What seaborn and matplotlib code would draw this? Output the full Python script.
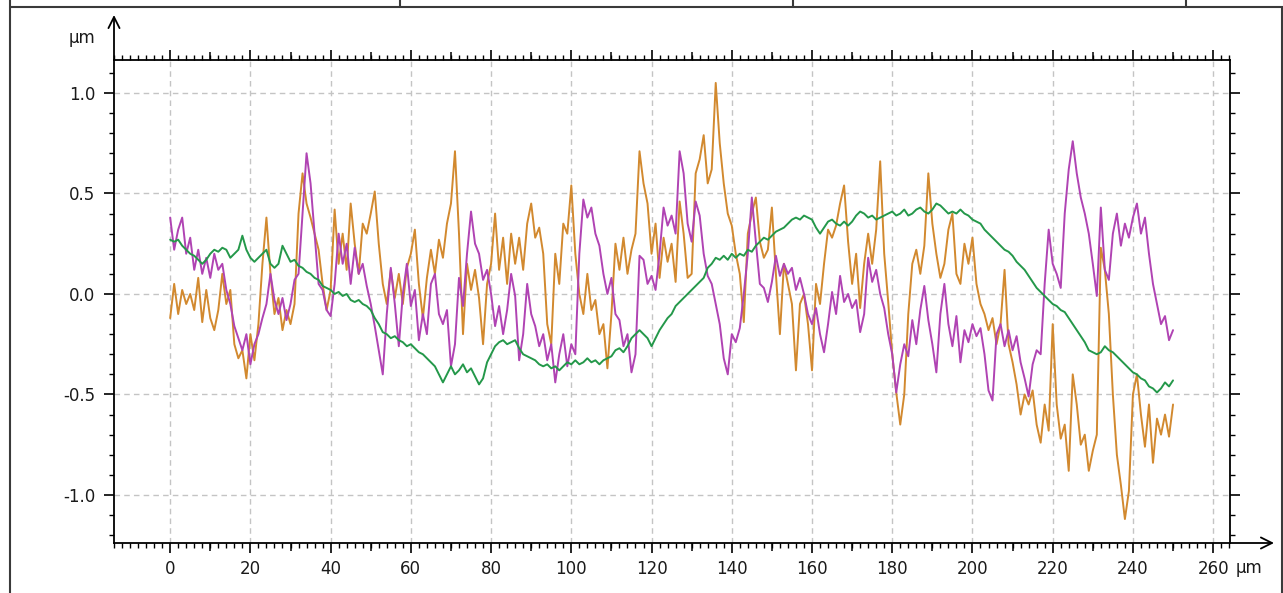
import matplotlib
matplotlib.use("Agg")
import matplotlib.pyplot as plt
from matplotlib.lines import Line2D
from matplotlib.ticker import MultipleLocator, FixedLocator, NullFormatter
import pandas as pd
import seaborn as sns

# Surface profiles sampled every 1 µm along the scan (heights in µm)
positions_um = list(range(0, 251))

profile_orange = [
    -0.12, 0.05, -0.10, 0.02, -0.05, 0.00, -0.08, 0.08, -0.14, 0.02,
    -0.12, -0.18, -0.08, 0.10, -0.05, 0.02, -0.25, -0.32, -0.28, -0.42,
    -0.20, -0.33, -0.15, 0.15, 0.38, 0.10, -0.10, -0.02, -0.18, -0.08,
    -0.15, -0.05, 0.40, 0.60, 0.45, 0.38, 0.30, 0.22, 0.05, -0.08,
    0.02, 0.42, 0.15, 0.30, 0.12, 0.45, 0.25, 0.10, 0.35, 0.30,
    0.40, 0.51, 0.25, 0.05, -0.05, 0.12, -0.02, 0.10, -0.05, 0.13,
    0.20, 0.32, 0.05, -0.12, 0.08, 0.22, 0.10, 0.27, 0.18, 0.35,
    0.45, 0.71, 0.30, -0.20, 0.15, 0.02, 0.12, -0.02, -0.25, 0.05,
    0.15, 0.40, 0.12, 0.28, 0.05, 0.30, 0.15, 0.28, 0.12, 0.35,
    0.45, 0.28, 0.33, 0.20, -0.15, -0.25, 0.20, 0.05, 0.35, 0.30,
    0.54, 0.20, 0.00, -0.10, 0.10, -0.08, -0.03, -0.20, -0.15, -0.37,
    -0.10, 0.25, 0.12, 0.28, 0.10, 0.22, 0.30, 0.71, 0.55, 0.45,
    0.20, 0.35, 0.08, 0.28, 0.16, 0.25, 0.06, 0.46, 0.30, 0.08,
    0.10, 0.60, 0.67, 0.79, 0.55, 0.62, 1.05, 0.75, 0.55, 0.40,
    0.34, 0.20, 0.10, -0.14, 0.30, 0.40, 0.48, 0.26, 0.18, 0.22,
    0.43, 0.10, -0.20, 0.15, 0.05, -0.05, -0.38, -0.05, 0.00, -0.15,
    -0.38, 0.05, -0.05, 0.15, 0.32, 0.28, 0.34, 0.45, 0.54, 0.26,
    0.05, 0.20, -0.07, 0.15, 0.30, 0.15, 0.32, 0.66, 0.20, -0.04,
    -0.30, -0.49, -0.65, -0.50, -0.10, 0.15, 0.22, 0.10, 0.24, 0.60,
    0.35, 0.20, 0.08, 0.15, 0.32, 0.40, 0.10, 0.05, 0.25, 0.15,
    0.28, 0.05, -0.05, -0.10, -0.18, -0.12, -0.25, -0.15, 0.12, -0.25,
    -0.34, -0.45, -0.60, -0.50, -0.55, -0.48, -0.65, -0.74, -0.55, -0.68,
    -0.15, -0.55, -0.72, -0.65, -0.88, -0.40, -0.55, -0.75, -0.70, -0.88,
    -0.78, -0.70, 0.23, 0.12, -0.10, -0.50, -0.80, -0.95, -1.12, -0.98,
    -0.50, -0.40, -0.60, -0.76, -0.55, -0.84, -0.62, -0.70, -0.60, -0.71,
    -0.55,
]

profile_magenta = [
    0.38, 0.22, 0.32, 0.38, 0.20, 0.28, 0.12, 0.22, 0.10, 0.18,
    0.08, 0.20, 0.12, 0.15, 0.02, -0.05, -0.16, -0.22, -0.28, -0.20,
    -0.35, -0.25, -0.20, -0.12, -0.05, 0.10, -0.03, -0.10, -0.02, -0.13,
    -0.05, 0.07, 0.10, 0.40, 0.70, 0.55, 0.30, 0.05, 0.02, -0.08,
    -0.11, 0.05, 0.30, 0.15, 0.25, 0.05, 0.23, 0.10, 0.15, 0.04,
    -0.05, -0.16, -0.28, -0.40, -0.10, 0.13, -0.05, -0.26, 0.00, 0.15,
    -0.06, 0.02, -0.23, -0.10, -0.20, 0.05, 0.10, -0.10, -0.15, -0.08,
    -0.36, -0.25, 0.08, -0.06, 0.20, 0.41, 0.25, 0.20, 0.07, 0.12,
    0.00, -0.16, -0.06, -0.20, -0.08, 0.10, -0.01, -0.33, -0.20, 0.05,
    -0.10, -0.16, -0.26, -0.20, -0.33, -0.25, -0.44, -0.30, -0.20, -0.36,
    -0.25, -0.30, 0.20, 0.47, 0.38, 0.43, 0.30, 0.24, 0.10, 0.00,
    0.08, -0.10, -0.13, -0.26, -0.20, -0.39, -0.30, 0.19, 0.17, 0.05,
    0.09, 0.02, 0.20, 0.43, 0.34, 0.39, 0.30, 0.71, 0.60, 0.35,
    0.26, 0.46, 0.39, 0.20, 0.09, 0.05, -0.05, -0.15, -0.32, -0.40,
    -0.20, -0.24, -0.17, 0.00, 0.20, 0.48, 0.26, 0.05, 0.03, -0.04,
    0.06, 0.19, 0.09, 0.15, 0.10, 0.13, 0.02, 0.08, 0.00, -0.10,
    -0.15, -0.07, -0.20, -0.29, -0.15, 0.01, -0.10, 0.09, -0.04, 0.00,
    -0.07, -0.03, -0.19, -0.10, 0.18, 0.06, 0.12, 0.00, -0.07, -0.20,
    -0.30, -0.49, -0.35, -0.25, -0.31, -0.13, -0.25, -0.08, 0.04, -0.13,
    -0.25, -0.39, -0.10, 0.05, -0.15, -0.26, -0.11, -0.34, -0.18, -0.24,
    -0.15, -0.21, -0.17, -0.30, -0.48, -0.53, -0.20, -0.15, -0.26, -0.18,
    -0.28, -0.21, -0.34, -0.42, -0.51, -0.35, -0.28, -0.30, 0.05, 0.32,
    0.15, 0.10, 0.03, 0.40, 0.62, 0.76, 0.60, 0.48, 0.40, 0.30,
    0.15, -0.01, 0.43, 0.12, 0.07, 0.30, 0.40, 0.24, 0.35, 0.28,
    0.38, 0.45, 0.30, 0.38, 0.20, 0.05, -0.05, -0.15, -0.11, -0.23,
    -0.18,
]

profile_green = [
    0.27, 0.26, 0.27, 0.24, 0.22, 0.20, 0.19, 0.17, 0.15, 0.17,
    0.20, 0.22, 0.21, 0.23, 0.22, 0.18, 0.20, 0.22, 0.29, 0.22,
    0.18, 0.16, 0.18, 0.20, 0.22, 0.15, 0.13, 0.15, 0.24, 0.20,
    0.16, 0.17, 0.14, 0.13, 0.11, 0.10, 0.08, 0.07, 0.04, 0.03,
    0.02, 0.00, 0.01, -0.01, 0.00, -0.03, -0.04, -0.03, -0.05, -0.06,
    -0.08, -0.12, -0.15, -0.19, -0.20, -0.22, -0.21, -0.23, -0.24, -0.26,
    -0.25, -0.27, -0.29, -0.30, -0.32, -0.34, -0.36, -0.40, -0.44, -0.40,
    -0.36, -0.40, -0.38, -0.35, -0.39, -0.37, -0.41, -0.45, -0.42, -0.34,
    -0.30, -0.26, -0.24, -0.23, -0.25, -0.24, -0.23, -0.27, -0.30, -0.31,
    -0.32, -0.33, -0.35, -0.36, -0.35, -0.37, -0.36, -0.38, -0.36, -0.34,
    -0.35, -0.33, -0.35, -0.34, -0.32, -0.34, -0.33, -0.35, -0.33, -0.32,
    -0.31, -0.28, -0.27, -0.29, -0.26, -0.22, -0.20, -0.18, -0.20, -0.22,
    -0.26, -0.22, -0.18, -0.15, -0.12, -0.10, -0.06, -0.04, -0.02, 0.00,
    0.02, 0.04, 0.06, 0.08, 0.13, 0.15, 0.18, 0.17, 0.19, 0.17,
    0.20, 0.18, 0.20, 0.19, 0.22, 0.21, 0.24, 0.26, 0.28, 0.27,
    0.29, 0.31, 0.32, 0.33, 0.35, 0.37, 0.38, 0.37, 0.39, 0.38,
    0.37, 0.33, 0.30, 0.33, 0.36, 0.37, 0.35, 0.34, 0.36, 0.34,
    0.36, 0.39, 0.41, 0.40, 0.38, 0.39, 0.37, 0.38, 0.39, 0.40,
    0.41, 0.39, 0.40, 0.42, 0.39, 0.40, 0.42, 0.43, 0.41, 0.40,
    0.42, 0.45, 0.44, 0.42, 0.40, 0.41, 0.40, 0.42, 0.40, 0.39,
    0.37, 0.36, 0.35, 0.32, 0.30, 0.28, 0.26, 0.24, 0.22, 0.21,
    0.19, 0.16, 0.14, 0.12, 0.09, 0.06, 0.03, 0.01, -0.01, -0.03,
    -0.05, -0.06, -0.08, -0.09, -0.12, -0.15, -0.18, -0.21, -0.24, -0.28,
    -0.29, -0.30, -0.29, -0.26, -0.28, -0.29, -0.31, -0.33, -0.35, -0.37,
    -0.39, -0.40, -0.42, -0.43, -0.46, -0.47, -0.49, -0.47, -0.44, -0.46,
    -0.43,
]

profile_names = ["orange", "magenta", "green"]
profile_colors = ["#d2892f", "#b043b3", "#24984a"]

x_major_ticks = [0, 20, 40, 60, 80, 100, 120, 140, 160, 180, 200, 220, 240, 260]
x_mid_ticks = [10, 30, 50, 70, 90, 110, 130, 150, 170, 190, 210, 230, 250]
y_major_ticks = [-1.0, -0.5, 0.0, 0.5, 1.0]
y_tick_labels = ["-1.0", "-0.5", "0.0", "0.5", "1.0"]

sns.set_style("white")
plt.rcParams["font.family"] = ["DejaVu Sans"]
plt.rcParams["axes.unicode_minus"] = False

W, H = 1283, 593
fig = plt.figure(figsize=(W / 100, H / 100), dpi=100)
fig.patch.set_facecolor("white")

# plot box in pixel terms: left 114, right 1230, top 60, bottom 543
ax = fig.add_axes([114 / W, 1 - 543 / H, (1230 - 114) / W, (543 - 60) / H])

df = pd.concat(
    [
        pd.DataFrame({"x": positions_um, "height": vals, "profile": name})
        for name, vals in zip(profile_names, [profile_orange, profile_magenta, profile_green])
    ],
    ignore_index=True,
)

sns.lineplot(
    data=df, x="x", y="height", hue="profile", hue_order=profile_names,
    palette=profile_colors, estimator=None, sort=False, linewidth=1.4,
    legend=False, ax=ax,
)

ax.set_xlim(-14, 264.2)
ax.set_ylim(-1.239, 1.164)
ax.set_xlabel("")
ax.set_ylabel("")

ax.set_xticks(x_major_ticks)
ax.xaxis.set_minor_locator(MultipleLocator(2))
ax.set_yticks(y_major_ticks)
ax.set_yticklabels(y_tick_labels)
ax.yaxis.set_minor_locator(MultipleLocator(0.1))

ax.tick_params(which="major", direction="out", length=7.5, width=1.2,
               bottom=True, left=True, top=True, right=True,
               labeltop=False, labelright=False,
               labelsize=12, colors="black", labelcolor="#1a1a1a")
ax.tick_params(axis="x", which="major", pad=5)
ax.tick_params(axis="y", which="major", pad=6)
ax.tick_params(which="minor", direction="out", length=3.5, width=1.0,
               bottom=True, left=True, top=True, right=True, colors="black")

for side in ["left", "right", "top", "bottom"]:
    ax.spines[side].set_visible(True)
    ax.spines[side].set_color("black")
    ax.spines[side].set_linewidth(1.3)

ax.grid(True, which="major", linestyle=(0, (4, 3)), color="#c4c4c4", linewidth=1.0)
ax.set_axisbelow(True)

# intermediate ticks every 10 µm on top and bottom edges
for loc in ["bottom", "top"]:
    sec = ax.secondary_xaxis(loc)
    sec.xaxis.set_major_locator(FixedLocator(x_mid_ticks))
    sec.xaxis.set_major_formatter(NullFormatter())
    sec.xaxis.set_minor_locator(FixedLocator([]))
    sec.tick_params(axis="x", which="major", direction="out", length=5.8, width=1.1, colors="black")
    sec.spines[loc].set_visible(False)

# axis arrows extending past the plot box
arrow = dict(arrowstyle="->,head_length=0.8,head_width=0.4", lw=1.3, color="black",
             shrinkA=0, shrinkB=0)
ax.annotate("", xy=(0, 1 + 45 / 483), xytext=(0, 1), xycoords="axes fraction",
            textcoords="axes fraction", arrowprops=arrow, annotation_clip=False)
ax.annotate("", xy=(1 + 44 / 1116, 0), xytext=(1, 0), xycoords="axes fraction",
            textcoords="axes fraction", arrowprops=arrow, annotation_clip=False)

# unit labels
fig.text(95 / W, 1 - 38 / H, "µm", ha="right", va="center", fontsize=12, color="#1a1a1a")
fig.text(1236 / W, 1 - 568 / H, "µm", ha="left", va="center", fontsize=12, color="#1a1a1a")

# surrounding panel frame
frame_kw = dict(transform=fig.transFigure, color="#3a3a3a", linewidth=1.5)
fig.add_artist(Line2D([10 / W, 10 / W], [0, 1], **frame_kw))
fig.add_artist(Line2D([1282 / W, 1282 / W], [0, 1 - 7 / H], **frame_kw))
fig.add_artist(Line2D([10 / W, 1283 / W], [1 - 7 / H, 1 - 7 / H], **frame_kw))
for px in [400, 793, 1186]:
    fig.add_artist(Line2D([px / W, px / W], [1 - 7 / H, 1], **frame_kw))

fig.savefig("out.png", dpi=100, facecolor="white")
